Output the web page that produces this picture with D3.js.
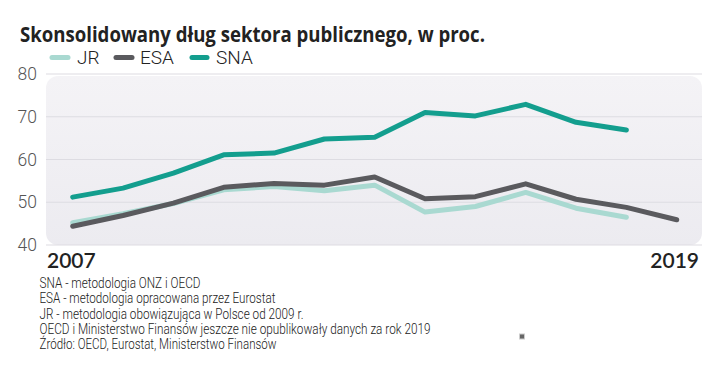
<!DOCTYPE html>
<html><head><meta charset="utf-8">
<script src="https://cdn.jsdelivr.net/npm/d3@7"></script>
<style>body{margin:0;background:#fff}svg{display:block}</style>
</head><body>
<svg id="c" width="720" height="381"></svg>
<script>
const years = [2007,2008,2009,2010,2011,2012,2013,2014,2015,2016,2017,2018,2019];
const sna = [51.2,53.3,56.8,61.1,61.5,64.8,65.2,71.0,70.2,72.9,68.7,66.9,null];
const esa = [44.4,46.9,49.8,53.5,54.4,54.0,55.9,50.8,51.3,54.3,50.7,48.8,45.9];
const jr  = [45.2,47.3,49.7,52.9,53.7,52.7,54.0,47.7,49.0,52.3,48.6,46.5,null];
const yTicks = [40,50,60,70,80];
const xLabels = ["2007","2019"];
const seriesNames = ["JR","ESA","SNA"];
const title = "Skonsolidowany dług sektora publicznego, w proc.";
const notes = [
 "SNA - metodologia ONZ i OECD",
 "ESA - metodologia opracowana przez Eurostat",
 "JR - metodologia obowiązująca w Polsce od 2009 r.",
 "OECD i Ministerstwo Finansów jeszcze nie opublikowały danych za rok 2019",
 "Źródło: OECD, Eurostat, Ministerstwo Finansów"
];
const noteWidths = [161,236,264,391,237];
const colors = {JR:"#a9d9d1", ESA:"#5a5a5e", SNA:"#139e8e"};
const data = {JR: jr, ESA: esa, SNA: sna};

const svg = d3.select("#c");
const x = d3.scaleLinear().domain([2007,2019]).range([72.7,676.7]);
const y = d3.scaleLinear().domain([40,80]).range([245,74]);

const defs = svg.append("defs");
const g = defs.append("linearGradient").attr("id","bg").attr("x1",0).attr("y1",0).attr("x2",0).attr("y2",1);
g.append("stop").attr("offset","0%").attr("stop-color","#f4f3f6");
g.append("stop").attr("offset","100%").attr("stop-color","#ecebf0");

svg.append("rect").attr("x",46).attr("y",y(80)+2).attr("width",656).attr("height",y(40)-y(80)-2)
  .attr("rx",12).attr("fill","url(#bg)");

// gridlines
svg.append("g").selectAll("line").data(yTicks).join("line")
  .attr("x1",46).attr("x2",702).attr("y1",d=>y(d)).attr("y2",d=>y(d))
  .attr("stroke","#dddce2").attr("stroke-width",1.2);

// y labels
svg.append("g").selectAll("text").data(yTicks).join("text")
  .attr("x",37).attr("y",d=>y(d)).attr("dy","0.35em").attr("text-anchor","end")
  .attr("font-family","Roboto, Lato, sans-serif").attr("font-weight",300).attr("font-size",17.5).attr("fill","#555")
  .text(d=>d);

// x labels
svg.append("text").attr("x",47).attr("y",268).attr("font-family","Lato, sans-serif").attr("font-weight",600)
  .attr("font-size",21).attr("fill","#222").text(xLabels[0]);
svg.append("text").attr("x",699).attr("y",268).attr("text-anchor","end").attr("font-family","Lato, sans-serif").attr("font-weight",600)
  .attr("font-size",21).attr("fill","#222").text(xLabels[1]);

// lines
const line = d3.line().defined(d=>d[1]!=null).x(d=>x(d[0])).y(d=>y(d[1]));
seriesNames.forEach(n=>{
  svg.append("path").datum(years.map((yr,i)=>[yr,data[n][i]]))
    .attr("d",line).attr("fill","none").attr("stroke",colors[n]).attr("stroke-width",5)
    .attr("stroke-linejoin","round").attr("stroke-linecap","round");
});

// title
svg.append("text").attr("x",20).attr("y",42).attr("font-family","'Open Sans', Lato, sans-serif")
  .attr("font-weight",700).attr("font-size",20.5).attr("fill","#222")
  .attr("textLength",465).attr("lengthAdjust","spacingAndGlyphs").text(title);

// legend
const legX = [[52,68,77],[116,132,140],[192,207,216]];
seriesNames.forEach((n,i)=>{
  svg.append("line").attr("x1",legX[i][0]).attr("x2",legX[i][1]).attr("y1",57.5).attr("y2",57.5)
    .attr("stroke",colors[n]).attr("stroke-width",5).attr("stroke-linecap","round");
  svg.append("text").attr("x",legX[i][2]).attr("y",64).attr("font-family","Roboto, Lato, sans-serif")
    .attr("font-weight",300).attr("font-size",19).attr("fill","#222").text(n);
});

// notes
notes.forEach((t,i)=>{
  svg.append("text").attr("x",39.5).attr("y",288+i*15.3)
    .attr("font-family","Roboto, sans-serif").attr("font-weight",300)
    .attr("font-size",15).attr("fill","#222")
    .attr("textLength",noteWidths[i]).attr("lengthAdjust","spacingAndGlyphs").text(t);
});

// small marker
svg.append("rect").attr("x",519.5).attr("y",334).attr("width",5).attr("height",5)
  .attr("fill","#666").attr("stroke","#ccc").attr("stroke-width",1);
</script>
</body></html>
